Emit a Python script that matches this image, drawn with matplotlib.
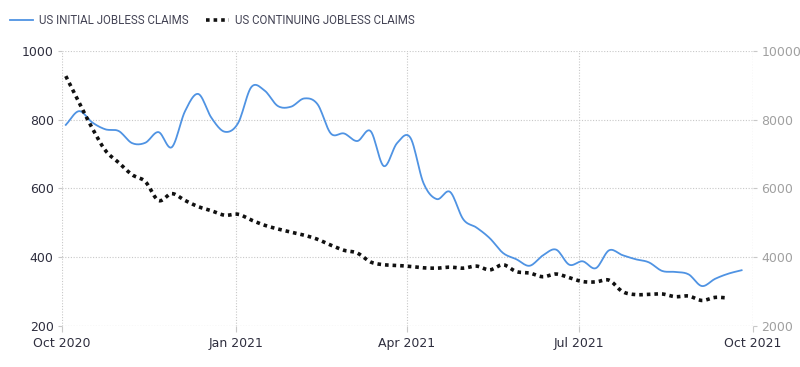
import matplotlib.pyplot as plt
import matplotlib.dates as mdates
import pandas as pd
import numpy as np

# weekly readings (thousands)
initial_dates = pd.date_range('2020-10-03', periods=52, freq='7D')
initial_claims = [785, 825, 792, 772, 767, 732, 733, 764, 720, 825,
                  875, 805, 765, 790, 895, 885, 840, 838, 862, 845,
                  760, 760, 738, 767, 665, 732, 748, 615, 569, 590,
                  510, 486, 455, 412, 394, 375, 405, 422, 378, 388,
                  368, 420, 406, 394, 385, 360, 357, 350, 316, 337,
                  352, 362]

continuing_dates = pd.date_range('2020-10-03', periods=51, freq='7D')
continuing_claims = [9270, 8500, 7750, 7100, 6750, 6400, 6200, 5650, 5850, 5650,
                     5470, 5350, 5220, 5250, 5080, 4930, 4820, 4730, 4640, 4520,
                     4350, 4200, 4120, 3860, 3780, 3760, 3730, 3690, 3680, 3710,
                     3680, 3740, 3630, 3780, 3580, 3540, 3430, 3510, 3400, 3290,
                     3280, 3330, 3000, 2910, 2920, 2930, 2850, 2870, 2740, 2830,
                     2810]

left_ticks = [200, 400, 600, 800, 1000]
right_ticks = [2000, 4000, 6000, 8000, 10000]
quarter_ticks = pd.to_datetime(['2020-10-01', '2021-01-01', '2021-04-01',
                                '2021-07-01', '2021-10-01'])


def smooth(dates, values, n=12):
    # catmull-rom curve through the weekly points, for a spline look
    x = mdates.date2num(dates)
    y = np.asarray(values, dtype=float)
    px = np.concatenate([[2 * x[0] - x[1]], x, [2 * x[-1] - x[-2]]])
    py = np.concatenate([[2 * y[0] - y[1]], y, [2 * y[-1] - y[-2]]])
    xs, ys = [], []
    t = np.linspace(0, 1, n, endpoint=False)
    for i in range(1, len(px) - 2):
        for p, out in ((px, xs), (py, ys)):
            p0, p1, p2, p3 = p[i - 1], p[i], p[i + 1], p[i + 2]
            out.extend(0.5 * (2 * p1 + (-p0 + p2) * t
                              + (2 * p0 - 5 * p1 + 4 * p2 - p3) * t ** 2
                              + (-p0 + 3 * p1 - 3 * p2 + p3) * t ** 3))
    xs.append(x[-1])
    ys.append(y[-1])
    return np.array(xs), np.array(ys)


fig = plt.figure(figsize=(8, 3.67), dpi=100)
ax = fig.add_axes([0.0775, 0.112, 0.8637, 0.749])
ax2 = ax.twinx()

grid_kw = dict(color='#c8c8c8', linestyle=(0, (1, 1.5)), linewidth=0.8)
ax.grid(True, **grid_kw)
ax.set_axisbelow(True)

sx, sy = smooth(initial_dates, initial_claims)
ax.plot(mdates.num2date(sx), sy, color='#4f93e3', linewidth=1.3,
        label='US INITIAL JOBLESS CLAIMS', zorder=3)
cx, cy = smooth(continuing_dates, continuing_claims)
ax2.plot(mdates.num2date(cx), cy, color='#111111', linewidth=2.6,
         linestyle=(0, (1, 1.1)), label='US CONTINUING JOBLESS CLAIMS')

ax.set_xlim(quarter_ticks[0], quarter_ticks[-1])
ax.set_ylim(200, 1000)
ax2.set_ylim(2000, 10000)
ax.set_yticks(left_ticks)
ax2.set_yticks(right_ticks)
ax.set_xticks(quarter_ticks)
ax.xaxis.set_major_formatter(mdates.DateFormatter('%b %Y'))

for a in (ax, ax2):
    for s in a.spines.values():
        s.set_visible(False)
ax.tick_params(axis='y', length=3, color='#c8c8c8', labelsize=9,
               labelcolor='#2e2e3e', pad=3)
ax.tick_params(axis='x', length=4, color='#c8c8c8', labelsize=9,
               labelcolor='#2e2e3e', pad=4)
ax2.tick_params(axis='y', length=3, color='#c8c8c8', labelsize=9,
                labelcolor='#a0a0a0', pad=3)
# dotted frame lines at the bottom and right edges
ax.axhline(200, **grid_kw, zorder=1)
ax.axvline(quarter_ticks[-1], **grid_kw, zorder=1)

h1, l1 = ax.get_legend_handles_labels()
h2, l2 = ax2.get_legend_handles_labels()
fig.legend(h1 + h2, l1 + l2, loc='upper left', bbox_to_anchor=(0.0, 0.99),
           ncol=2, frameon=False, handlelength=2.0, handletextpad=0.5,
           columnspacing=1.5, prop={'family': 'Roboto', 'size': 8.3},
           labelcolor='#444455')

fig.savefig('out.png', dpi=100)
